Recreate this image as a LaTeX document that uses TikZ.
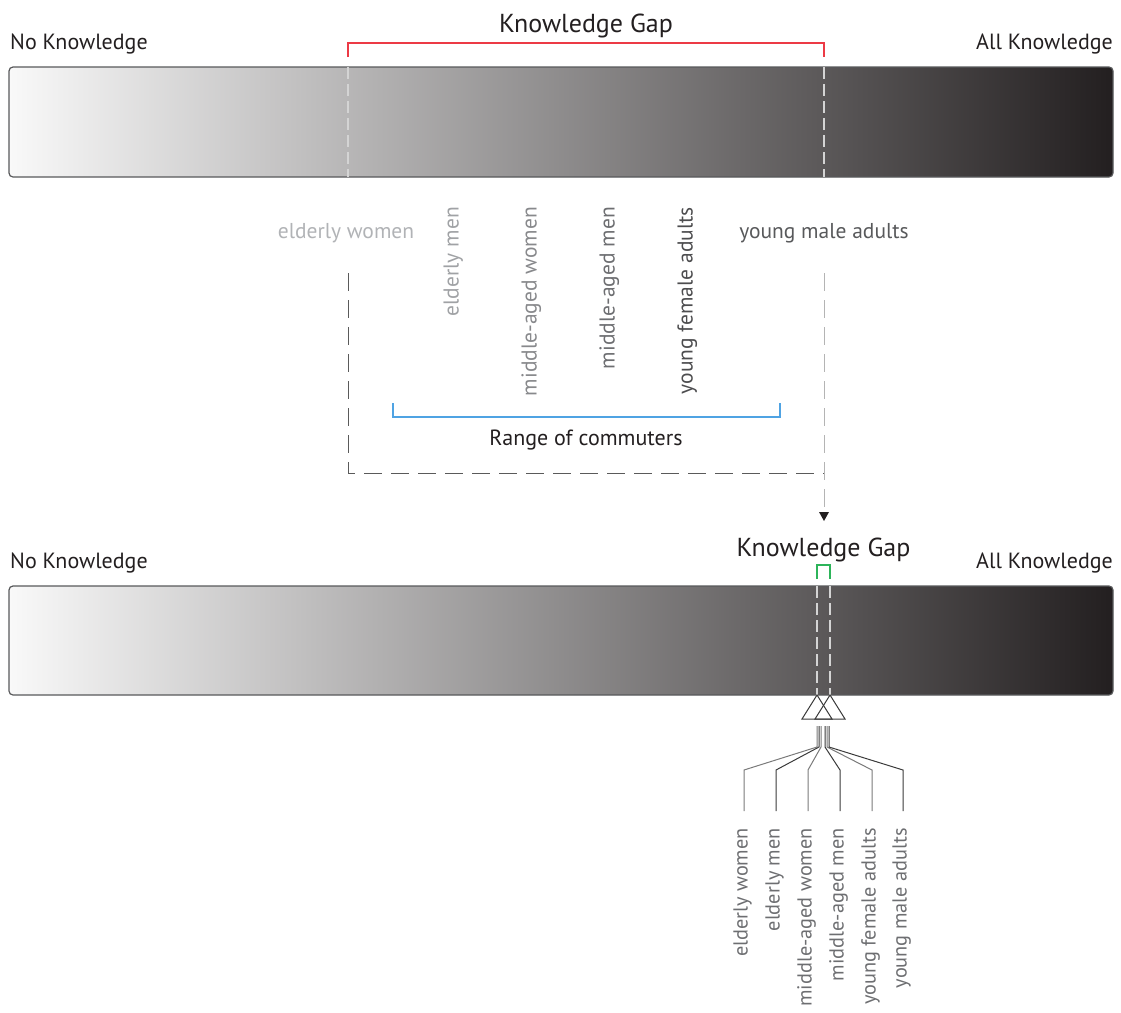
\documentclass[tikz,border=0pt]{standalone}
\usepackage{fontspec}
\setmainfont{PT Sans}
\usetikzlibrary{shapes.geometric}
\definecolor{barL}{HTML}{F9F9F9}
\definecolor{barR}{HTML}{231F20}
\definecolor{barEdge}{HTML}{58595B}
\definecolor{txt}{HTML}{231F20}
\definecolor{gA}{HTML}{B1B3B6}
\definecolor{gB}{HTML}{A0A2A5}
\definecolor{gC}{HTML}{88898C}
\definecolor{gD}{HTML}{6D6E71}
\definecolor{gE}{HTML}{4D4D4F}
\definecolor{gF}{HTML}{58595B}
\definecolor{gapred}{HTML}{EC3A45}
\definecolor{gapblue}{HTML}{4FA3E3}
\definecolor{gapgreen}{HTML}{2DB45A}
\definecolor{dashlight}{HTML}{D4D4D4}
\definecolor{dashdark}{HTML}{5A5A5A}
\definecolor{linedark}{HTML}{3A3A3A}
\definecolor{linegray}{HTML}{7A7A7A}
\tikzset{
  lab/.style={inner sep=0pt, text=txt, font=\fontsize{22}{26}\selectfont},
  biglab/.style={inner sep=0pt, text=txt, font=\fontsize{26}{31}\selectfont},
  grp/.style={inner sep=0pt, font=\fontsize{21.5}{26}\selectfont},
  vgrp/.style={grp, rotate=90, anchor=mid east},
  vgrpsmall/.style={vgrp, font=\fontsize{20.3}{24}\selectfont},
  knowbar/.style={draw=barEdge, line width=1.2pt, rounded corners=4pt,
    left color=barL, right color=barR, inner sep=0pt, minimum width=1104pt},
  bardash/.style={draw=dashlight, line width=1.4pt, dash pattern=on 12pt off 5pt},
  boxdarkdash/.style={draw=dashdark, line width=1pt, dash pattern=on 18pt off 9pt},
  boxlightdash/.style={draw=dashlight!85!black, line width=1pt, dash pattern=on 18pt off 9pt},
  bracket/.style={line width=1.4pt},
  tri/.style={draw=linedark, line width=1pt, line join=miter},
  fan/.style={line width=1pt},
}
\begin{document}
\begin{tikzpicture}[x=1pt,y=-1pt]
\useasboundingbox (0,0) rectangle (1121,1012);

% ---------- top bar ----------
\node[knowbar, minimum height=110pt] (bar1) at (561,122) {};
\node[lab, anchor=base west] (nk1) at (10,49) {No Knowledge};
\node[lab, anchor=base east] (ak1) at (1113,49) {All Knowledge};
\node[biglab, anchor=base] (kg1) at (586,32) {Knowledge Gap};

\coordinate (gl1) at (348,57);
\coordinate (gr1) at (824,57);
\draw[bracket, gapred] (gl1) -- ++(0,-14) -| (gr1);
\draw[bardash] (348,67) -- (348,177);
\draw[bardash] (824,67) -- (824,177);

% ---------- groups ----------
\node[grp, text=gA, anchor=base] (ew) at (346,238) {elderly women};
\node[grp, text=gF, anchor=base] (ym) at (824,238) {young male adults};
\node[vgrp, text=gB] (em) at (456,207) {elderly men};
\node[vgrp, text=gC] (mw) at (534,207) {middle-aged women};
\node[vgrp, text=gD] (mm) at (612,207) {middle-aged men};
\node[vgrp, text=gE] (yf) at (690,207) {young female adults};

\coordinate (bl) at (393,403);
\coordinate (br) at (780,403);
\draw[bracket, gapblue] (bl) -- ++(0,14) -| (br);
\node[lab, anchor=base] (range) at (586,445) {Range of commuters};

\coordinate (dtl) at (348,273);
\coordinate (dbl) at (348,473);
\coordinate (dbr) at (824,473);
\coordinate (dtr) at (824,273);
\coordinate (dend) at (824,507);
\draw[boxdarkdash] (dtl) -- (dbl) -- (dbr);
\draw[boxlightdash] (dtr) -- (dend);
\fill[txt] (819,512) -- (829,512) -- (824,521) -- cycle;

% ---------- bottom bar ----------
\node[knowbar, minimum height=109pt] (bar2) at (561,640.5) {};
\node[lab, anchor=base west] (nk2) at (10,568) {No Knowledge};
\node[lab, anchor=base east] (ak2) at (1113,568) {All Knowledge};
\node[biglab, anchor=base] (kg2) at (823.5,556) {Knowledge Gap};

\coordinate (gl2) at (817,579);
\coordinate (gr2) at (830,579);
\draw[bracket, gapgreen] (gl2) -- ++(0,-14) -| (gr2);
\draw[bardash] (817,586) -- (817,695);
\draw[bardash] (830,586) -- (830,695);

% triangles
\draw[tri] (817,695) -- (802,719) -- (832,719) -- cycle;
\draw[tri] (830,695) -- (815,719) -- (845,719) -- cycle;

% fan of lines and labels
\foreach \b/\v/\c/\lc/\nm/\t in {
  817/744/linegray/gD/le/elderly women,
  819/776/linedark/gD/lm/elderly men,
  821/808/linegray/gD/lmw/middle-aged women,
  825/840/linedark/gD/lmm/middle-aged men,
  827/872/linegray/gD/lyf/young female adults,
  829/903/linedark/gD/lym/young male adults}{
  \coordinate (\nm-a) at (\b,726);
  \coordinate (\nm-b) at (\b,747);
  \coordinate (\nm-c) at (\v,770);
  \coordinate (\nm-d) at (\v,811);
  \draw[fan, \c] (\nm-a) -- (\nm-b) -- (\nm-c) -- (\nm-d);
  \node[vgrpsmall, text=\lc] (\nm-t) at (\v+1,828) {\t};
}
\end{tikzpicture}
\end{document}
